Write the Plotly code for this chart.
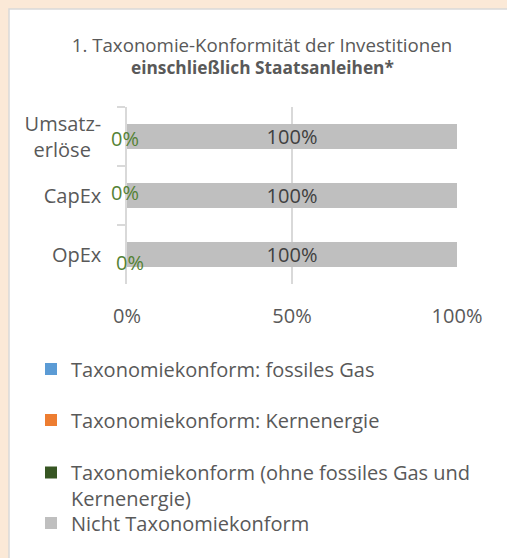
import plotly.graph_objects as go

categories = ["Umsatz-<br>erlöse\u00a0\u00a0", "CapEx", "OpEx"]
series_names = [
    "Taxonomiekonform: fossiles Gas",
    "Taxonomiekonform: Kernenergie",
    "Taxonomiekonform (ohne fossiles Gas und<br>Kernenergie)",
    "Nicht Taxonomiekonform",
]
gas_values = [0, 0, 0]
nuclear_values = [0, 0, 0]
aligned_values = [0, 0, 0]
not_aligned_values = [100, 100, 100]
x_tick_values = [0, 50, 100]
x_tick_labels = ["0%", "50%", "100%"]
title_line1 = "1. Taxonomie-Konformität der Investitionen"
title_line2 = "einschließlich Staatsanleihen*"

colors = ["#5B9BD5", "#ED7D31", "#375623", "#BFBFBF"]
series_values = [gas_values, nuclear_values, aligned_values, not_aligned_values]
legend_ids = ["legend", "legend2", "legend3", "legend4"]

W, H = 507, 558
ML, MR, MT, MB = 127, 50, 107, 274
PW, PH = W - ML - MR, H - MT - MB
FONT = "Open Sans"
TXT = "#595959"
FS = 20

fig = go.Figure()
for name, vals, col, lg in zip(series_names, series_values, colors, legend_ids):
    is_last = vals is not_aligned_values
    fig.add_trace(go.Bar(
        name=name, y=categories, x=vals, orientation="h",
        marker=dict(color=col, line=dict(width=0)),
        legend=lg, showlegend=True,
        text=[f"{v}%" for v in vals] if is_last else None,
        textposition="inside" if is_last else "none",
        insidetextanchor="middle", constraintext="none",
        textfont=dict(family=FONT, size=FS, color="#404040"),
        hoverinfo="skip",
    ))


def px_x(p):
    return (p - ML) / PW


def px_y(p):
    return (H - MB - p) / PH


# data labels for the (zero-width) aligned series
label_shifts = [(-2, -2), (-2, 3), (3, -8)]
annotations = []
for cat, g, n, a, (dx, dy) in zip(categories, gas_values, nuclear_values, aligned_values, label_shifts):
    annotations.append(dict(
        x=g + n + a / 2, y=cat, xref="x", yref="y", text=f"{a}%", showarrow=False,
        xshift=dx, yshift=dy, font=dict(family=FONT, size=FS, color="#548235"),
    ))

annotations.append(dict(
    x=px_x(262), y=px_y(67), xref="paper", yref="paper", xanchor="center", yanchor="middle",
    text=f"<b>{title_line2}</b>", showarrow=False,
    font=dict(family=FONT, size=17.3, color=TXT),
))

shapes = [dict(
    type="rect", xref="paper", yref="paper",
    x0=px_x(9), x1=px_x(W + 5), y0=px_y(H + 5), y1=px_y(9),
    fillcolor="white", line=dict(color="#D9D9D9", width=1.5), layer="below",
)]

leg_common = dict(
    xref="container", yref="container", xanchor="left", yanchor="middle",
    font=dict(family=FONT, size=FS, color=TXT), bgcolor="rgba(0,0,0,0)",
    borderwidth=0, itemclick=False, itemdoubleclick=False, visible=True,
)
leg_x = 31 / W
leg_y = [369, 420, 473, 523]

layout_legends = {}
for lg, yy in zip(legend_ids, leg_y):
    d = dict(leg_common, x=leg_x, y=1 - yy / H)
    if lg == "legend3":
        d.update(yanchor="top", y=1 - (yy - 20) / H, valign="top")
    layout_legends[lg] = d

fig.update_layout(
    width=W, height=H,
    margin=dict(l=ML, r=MR, t=MT, b=MB, autoexpand=False),
    paper_bgcolor="#FBE9D7", plot_bgcolor="white",
    barmode="stack", bargap=0.56, showlegend=True,
    font=dict(family=FONT, color=TXT),
    title=dict(
        text=title_line1,
        x=262 / W, xanchor="center", xref="container",
        y=1 - 45 / H, yanchor="middle", yref="container",
        font=dict(family=FONT, size=18.7, color=TXT),
    ),
    xaxis=dict(
        range=[0, 100], tickvals=x_tick_values, ticktext=x_tick_labels,
        showgrid=True, gridcolor="#D9D9D9", gridwidth=1.5, zeroline=False,
        showline=False, ticks="", ticklabelstandoff=18,
        tickfont=dict(family=FONT, size=FS, color=TXT),
        fixedrange=True,
    ),
    yaxis=dict(
        autorange="reversed", showgrid=False, showline=True, linecolor="#D9D9D9",
        linewidth=1.5, ticks="outside", ticklen=8, tickcolor="#D9D9D9", tickwidth=1.5,
        tickson="boundaries", ticklabelstandoff=20,
        tickfont=dict(family=FONT, size=FS, color=TXT),
        fixedrange=True,
    ),
    shapes=shapes,
    annotations=annotations,
    **layout_legends,
)

fig.write_html(
    "out.html",
    config={"displayModeBar": False},
    post_script="document.body.style.margin='0';document.body.style.background='#FBE9D7';",
)
